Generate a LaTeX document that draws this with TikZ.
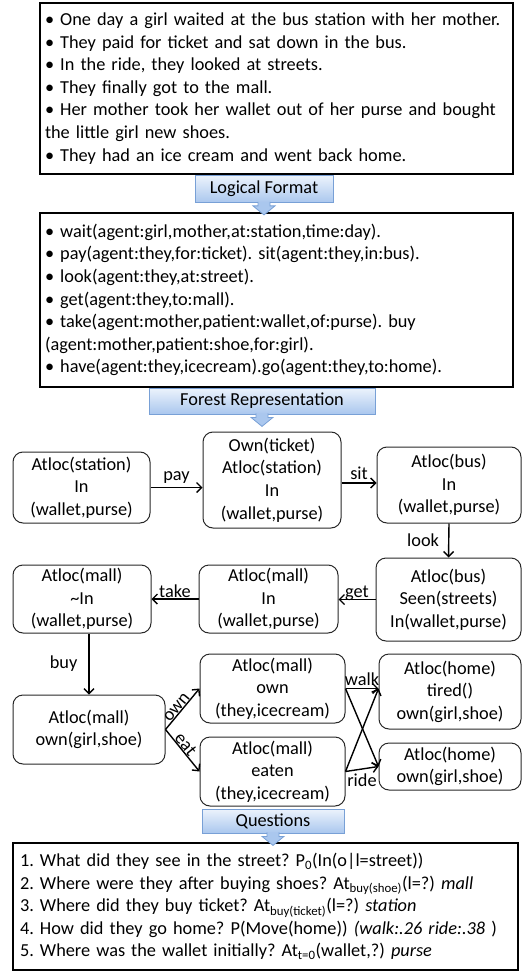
\documentclass[tikz,border=0pt]{standalone}
\usepackage{fontspec}
\setmainfont{Carlito}
\usetikzlibrary{positioning, arrows.meta, calc}
\definecolor{bannerline}{RGB}{120, 160, 214}
\definecolor{bannertop}{RGB}{236, 243, 252}
\definecolor{bannerbottom}{RGB}{170, 199, 238}
\definecolor{stateline}{RGB}{40, 40, 40}
\newcommand{\storyfont}{\fontsize{18.3}{22.6}\selectfont}
\frenchspacing

\begin{document}
\begin{tikzpicture}[x=1pt, y=-1pt,
    textbox/.style={draw, line width=1.6pt, inner sep=0pt, align=left, font=\storyfont},
    state/.style={draw=stateline, line width=1pt, rounded corners=10pt, align=center, inner sep=0pt, font=\storyfont},
    banner/.style={draw=bannerline, line width=0.8pt, top color=bannertop, bottom color=bannerbottom, inner sep=0pt, font=\storyfont},
    edge/.style={line width=1.4pt, -{Straight Barb[length=5pt, width=10pt]}},
    tag/.style={font=\storyfont, inner sep=1pt}]
    \useasboundingbox (0,0) rectangle (526,973);
    % Story
    \node[textbox, minimum width=473pt, minimum height=171pt, text width=463pt] (story) at (276.5,88.5) {%
      • One day a girl waited at the bus station with her mother.\\
      • They paid for ticket and sat down in the bus.\\
      • In the ride, they looked at streets.\\
      • They finally got to the mall.\\
      • Her mother took her wallet out of her purse and bought\\
      the little girl new shoes.\\
      • They had an ice cream and went back home.};
    % Logical form
    \node[textbox, minimum width=473pt, minimum height=174pt, text width=463pt] (logic) at (276.5,300) {%
      • wait(agent:girl,mother,at:station,time:day).\\
      • pay(agent:they,for:ticket). sit(agent:they,in:bus).\\
      • look(agent:they,at:street).\\
      • get(agent:they,to:mall).\\
      • take(agent:mother,patient:wallet,of:purse). buy\\
      (agent:mother,patient:shoe,for:girl).\\
      • have(agent:they,icecream).go(agent:they,to:home).};
    % Forest states
    \node[state, minimum width=137pt, minimum height=71pt] (atstation) at (81.5,487.5) {Atloc(station)\\In\\(wallet,purse)};
    \node[state, minimum width=138pt, minimum height=96pt] (ownticket) at (272,480) {Own(ticket)\\Atloc(station)\\In\\(wallet,purse)};
    \node[state, minimum width=144pt, minimum height=76pt] (atbus) at (449,485) {Atloc(bus)\\In\\(wallet,purse)};
    \node[state, minimum width=145pt, minimum height=83pt] (seen) at (448.5,599.5) {Atloc(bus)\\Seen(streets)\\In(wallet,purse)};
    \node[state, minimum width=139pt, minimum height=68pt] (mallin) at (268.5,599) {Atloc(mall)\\In\\(wallet,purse)};
    \node[state, minimum width=138pt, minimum height=68pt] (mallout) at (82,599) {Atloc(mall)\\\textasciitilde In\\(wallet,purse)};
    \node[state, minimum width=152pt, minimum height=69pt] (shoes) at (89,729.5) {Atloc(mall)\\own(girl,shoe)};
    \node[state, minimum width=145pt, minimum height=69pt] (owncream) at (272.5,688.5) {Atloc(mall)\\own\\(they,icecream)};
    \node[state, minimum width=145pt, minimum height=69pt] (eaten) at (272.5,771.5) {Atloc(mall)\\eaten\\(they,icecream)};
    \node[state, minimum width=142pt, minimum height=75pt] (tired) at (450,691.5) {Atloc(home)\\tired()\\own(girl,shoe)};
    \node[state, minimum width=142pt, minimum height=47pt] (home) at (450,766.5) {Atloc(home)\\own(girl,shoe)};
    % Transitions
    \draw[edge] (atstation.east) -- (atstation.east -| ownticket.west) node[tag, midway, above=2pt] (paylbl) {pay};
    \draw[edge] (ownticket.east) ++(0,3) -- ($(ownticket.east -| atbus.west)+(0,3)$) node[tag, midway, above=2pt] (sitlbl) {sit};
    \draw[edge] (atbus.south) -- (seen.north) node[tag, midway, left=8pt] (looklbl) {look};
    \draw[edge] (seen.west) -- (seen.west -| mallin.east) node[tag, midway, above=-3pt] (getlbl) {get};
    \draw[edge] (mallin.west) -- (mallin.west -| mallout.east) node[tag, midway, above] (takelbl) {take};
    \draw[edge] (mallout.south -| shoes.north) -- (shoes.north) node[tag, midway, left=10pt] (buylbl) {buy};
    \draw[edge] (shoes.east) -- (owncream.west) node[tag, pos=0.45, above, sloped, inner sep=0pt] (ownlbl) {own};
    \draw[edge] (shoes.east) -- (eaten.west) node[tag, pos=0.45, above, sloped, inner sep=0pt] (eatlbl) {eat};
    \draw[edge] (owncream.east) -- (owncream.east -| tired.west) node[tag, midway, above=1pt] (walklbl) {walk};
    \draw[edge] (owncream.east) -- (home.west);
    \draw[edge] (eaten.east) -- (owncream.east -| tired.west);
    \draw[edge] (eaten.east) -- (home.west) node[tag, midway, below=3pt] (ridelbl) {ride};
    % Questions
    \node[textbox, line width=1.2pt, minimum width=505pt, minimum height=127pt, text width=491pt] (questions) at (265.5,906.5) {%
      1. What did they see in the street? P\textsubscript{0}(In(o|l=street))\\
      2. Where were they after buying shoes? At\textsubscript{buy(shoe)}(l=?) \textit{mall}\\
      3. Where did they buy ticket? At\textsubscript{buy(ticket)}(l=?) \textit{station}\\
      4. How did they go home? P(Move(home)) \textit{(walk:.26 ride:.38} )\\
      5. Where was the wallet initially? At\textsubscript{t=0}(wallet,?) \textit{purse}};
    % Banners
    \node[banner, minimum width=138pt, minimum height=27pt] (logical) at (264,189) {Logical Format};
    \node[banner, minimum width=226pt, minimum height=26pt] (forest) at (262,401) {Forest Representation};
    \node[banner, minimum width=142pt, minimum height=24pt] (asked) at (273,821) {Questions};
    \foreach \b in {logical, forest, asked}{
      \filldraw[draw=bannerline, fill=bannerbottom, line width=0.8pt]
        ($(\b.south)+(-6,-1)$) -- ($(\b.south)+(-6,3)$) -- ($(\b.south)+(-11,3)$) -- ($(\b.south)+(0,12)$)
        -- ($(\b.south)+(11,3)$) -- ($(\b.south)+(6,3)$) -- ($(\b.south)+(6,-1)$);
    }
\end{tikzpicture}
\end{document}
